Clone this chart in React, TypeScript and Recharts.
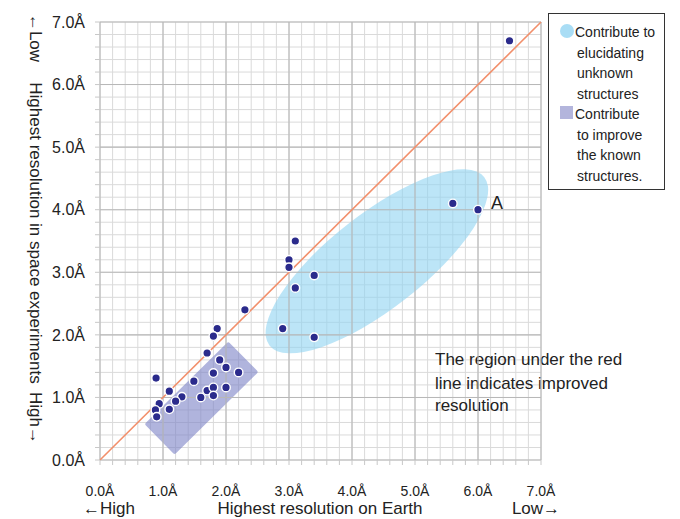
import React from "react"
import {
  CartesianGrid,
  Customized,
  ReferenceArea,
  ReferenceLine,
  Scatter,
  ScatterChart,
  XAxis,
  YAxis,
} from "recharts"

// resolution on Earth (Å) vs. resolution in space experiments (Å)
const earthRes = [
  6.5, 5.6, 6.0, 3.1, 3.0, 3.0, 3.4, 3.1, 2.3, 2.9, 3.4, 1.86, 1.8, 1.7, 1.9, 2.0,
  2.2, 1.8, 1.49, 0.89, 1.1, 1.7, 1.8, 2.0, 1.8, 1.6, 1.3, 1.2, 0.94, 0.88, 1.1, 0.9,
]
const spaceRes = [
  6.7, 4.1, 4.0, 3.5, 3.2, 3.08, 2.95, 2.75, 2.4, 2.1, 1.96, 2.1, 1.98, 1.71, 1.6, 1.48,
  1.4, 1.39, 1.26, 1.31, 1.1, 1.11, 1.16, 1.16, 1.03, 1.0, 1.01, 0.94, 0.9, 0.8, 0.81, 0.69,
]

const majorTicks = [0, 1, 2, 3, 4, 5, 6, 7]
const minorTicks = [
  0, 0.2, 0.4, 0.6, 0.8, 1, 1.2, 1.4, 1.6, 1.8, 2, 2.2, 2.4, 2.6, 2.8, 3, 3.2, 3.4,
  3.6, 3.8, 4, 4.2, 4.4, 4.6, 4.8, 5, 5.2, 5.4, 5.6, 5.8, 6, 6.2, 6.4, 6.6, 6.8, 7,
]

// regions given by their long axis (from -> to) and half of the short side, in Å
const unknownRegion = { x1: 2.69, y1: 1.83, x2: 6.1, y2: 4.52, half: 0.75 }
const knownRegion = { x1: 0.945, y1: 0.33, x2: 2.275, y2: 1.65, half: 0.34 }

const points = earthRes.map((x, i) => ({ x, y: spaceRes[i] }))

const FONT = "'Liberation Sans', Arial, Helvetica, sans-serif"
// only whole Ångströms get a label, the 0.2 steps just carry grid lines
const fmtA = (v: number) =>
  Math.abs(v - Math.round(v)) < 1e-6 ? `${v.toFixed(1)}Å` : ""

// rotated shape spanning the ReferenceArea diagonal (bottom-left -> top-right)
function rotatedShape(region: typeof unknownRegion, kind: "ellipse" | "rect", fill: string) {
  return (props: any) => {
    const x = Number(props.x)
    const y = Number(props.y)
    const w = Math.abs(Number(props.width))
    const h = Math.abs(Number(props.height))
    const cx = x + w / 2
    const cy = y + h / 2
    const len = Math.hypot(w, h) / 2
    const angle = (Math.atan2(h, w) * 180) / Math.PI
    const ry = region.half * (w / (region.x2 - region.x1))
    const transform = `rotate(${-angle} ${cx} ${cy})`
    if (kind === "ellipse") {
      return <ellipse cx={cx} cy={cy} rx={len} ry={ry} fill={fill} transform={transform} />
    }
    return (
      <rect
        x={cx - len}
        y={cy - ry}
        width={len * 2}
        height={ry * 2}
        rx={2}
        fill={fill}
        transform={transform}
      />
    )
  }
}

const Dot = (props: any) => (
  <circle cx={props.cx} cy={props.cy} r={4.3} fill="#2b2b8c" stroke="#ffffff" strokeWidth={1.4} />
)

const Texts = () => (
  <g fontFamily={FONT} fill="#222">
    <text x={109} y={514} fontSize={17} textAnchor="middle">←High</text>
    <text x={320} y={514} fontSize={17} textAnchor="middle">Highest resolution on Earth</text>
    <text x={536} y={514} fontSize={17} textAnchor="middle">Low→</text>
    <text x={30} y={38} fontSize={17} textAnchor="middle" transform="rotate(90 30 38)">←Low</text>
    <text x={30} y={233} fontSize={17} textAnchor="middle" transform="rotate(90 30 233)">
      Highest resolution in space experiments
    </text>
    <text x={30} y={418} fontSize={17} textAnchor="middle" transform="rotate(90 30 418)">High→</text>
    <text x={435} y={365} fontSize={17}>The region under the red</text>
    <text x={435} y={388.5} fontSize={17}>line indicates improved</text>
    <text x={435} y={411} fontSize={17}>resolution</text>
    <text x={491} y={208.5} fontSize={18}>A</text>
  </g>
)

const legendLine: React.CSSProperties = { paddingLeft: 2 }

export default function App() {
  return (
    <div style={{ position: "absolute", left: 0, top: 0, width: 680, height: 519, background: "#fff" }}>
      <ScatterChart width={680} height={519} margin={{ top: 22, right: 139, bottom: 0, left: 0 }}>
        <CartesianGrid stroke="#dadada" strokeWidth={1} />
        {majorTicks.map((t) => (
          <ReferenceLine key={`vx${t}`} x={t} stroke="#b8b8b8" strokeWidth={1.1} />
        ))}
        {majorTicks.map((t) => (
          <ReferenceLine key={`hy${t}`} y={t} stroke="#b8b8b8" strokeWidth={1.1} />
        ))}
        <XAxis
          type="number"
          dataKey="x"
          domain={[0, 7]}
          ticks={minorTicks}
          interval={0}
          tickFormatter={fmtA}
          height={59}
          axisLine={false}
          tickLine={{ stroke: "#c8c8c8" }}
          tickSize={5}
          tickMargin={21}
          tick={{ fill: "#222", fontSize: 14, fontFamily: FONT }}
        />
        <YAxis
          type="number"
          dataKey="y"
          domain={[0, 7]}
          ticks={minorTicks}
          interval={0}
          tickFormatter={fmtA}
          width={100}
          axisLine={false}
          tickLine={{ stroke: "#c8c8c8" }}
          tickSize={5}
          tickMargin={10}
          tick={{ fill: "#222", fontSize: 16, fontFamily: FONT }}
        />
        <ReferenceArea
          x1={unknownRegion.x1}
          x2={unknownRegion.x2}
          y1={unknownRegion.y1}
          y2={unknownRegion.y2}
          shape={rotatedShape(unknownRegion, "ellipse", "rgba(143,212,242,0.6)")}
        />
        <ReferenceArea
          x1={knownRegion.x1}
          x2={knownRegion.x2}
          y1={knownRegion.y1}
          y2={knownRegion.y2}
          shape={rotatedShape(knownRegion, "rect", "rgba(124,130,198,0.6)")}
        />
        <ReferenceLine
          segment={[
            { x: 0, y: 0 },
            { x: 7, y: 7 },
          ]}
          stroke="#f28f6b"
          strokeWidth={1.6}
        />
        <Scatter data={points} shape={Dot} isAnimationActive={false} />
        <Customized component={<Texts />} />
      </ScatterChart>
      <div
        style={{
          position: "absolute",
          left: 548,
          top: 13,
          width: 117,
          height: 177,
          boxSizing: "border-box",
          border: "1px solid #333",
          background: "#fff",
          fontFamily: FONT,
          fontSize: 14,
          lineHeight: "20.5px",
          color: "#222",
          paddingTop: 8,
          paddingLeft: 26,
        }}
      >
        <span
          style={{
            position: "absolute",
            left: 11,
            top: 10,
            width: 14,
            height: 14,
            borderRadius: "50%",
            background: "#a9ddf5",
          }}
        />
        <span
          style={{
            position: "absolute",
            left: 11,
            top: 92,
            width: 13,
            height: 13,
            background: "#b3b5dc",
          }}
        />
        <div>Contribute to</div>
        <div style={legendLine}>elucidating</div>
        <div style={legendLine}>unknown</div>
        <div style={legendLine}>structures</div>
        <div>Contribute</div>
        <div style={legendLine}>to improve</div>
        <div style={legendLine}>the known</div>
        <div style={legendLine}>structures.</div>
      </div>
    </div>
  )
}
